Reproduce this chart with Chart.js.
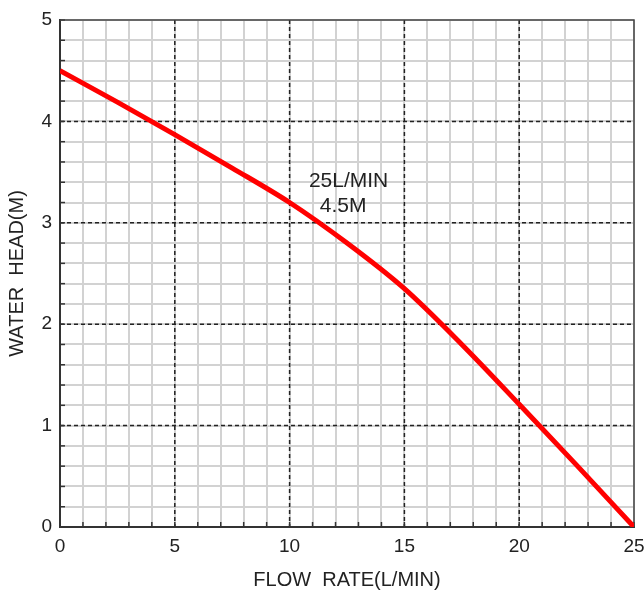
<!DOCTYPE html>
<html>
<head>
<meta charset="utf-8">
<script src="https://cdn.jsdelivr.net/npm/chart.js@4.4.0/dist/chart.umd.min.js"></script>
<style>
    html, body { margin: 0; padding: 0; background: #fff; }
    #wrap { width: 644px; height: 592px; }
</style>
</head>
<body>
<div id="wrap"><canvas id="pumpChart"></canvas></div>
<script>
// Pump curve
const flowRate = [0, 2.5, 5, 7.5, 10, 12.5, 15, 17.5, 20, 22.5, 25];
const waterHead = [4.5, 4.19, 3.87, 3.54, 3.20, 2.80, 2.35, 1.80, 1.21, 0.61, 0];
const xMajorTicks = [5, 10, 15, 20];
const yMajorTicks = [1, 2, 3, 4];
const noteLines = ['25L/MIN', '4.5M'];

const FONT = 'Arial, "Liberation Sans", Helvetica, sans-serif';

// Dashed major grid, inner tick marks, frame and note
const gridExtras = {
    id: 'gridExtras',
    beforeDatasetsDraw(chart) {
        const { ctx, chartArea: a, scales: { x, y } } = chart;
        ctx.save();

        // dashed major lines
        ctx.strokeStyle = '#222';
        ctx.lineWidth = 1.5;
        ctx.setLineDash([4, 3]);
        xMajorTicks.forEach(v => {
            const px = x.getPixelForValue(v);
            ctx.beginPath();
            ctx.moveTo(px, a.top);
            ctx.lineTo(px, a.bottom);
            ctx.stroke();
        });
        yMajorTicks.forEach(v => {
            const py = y.getPixelForValue(v);
            ctx.beginPath();
            ctx.moveTo(a.left, py);
            ctx.lineTo(a.right, py);
            ctx.stroke();
        });
        ctx.setLineDash([]);

        // small inner ticks
        ctx.strokeStyle = '#333';
        ctx.lineWidth = 1.5;
        y.ticks.forEach(t => {
            const py = y.getPixelForValue(t.value);
            ctx.beginPath();
            ctx.moveTo(a.left, py);
            ctx.lineTo(a.left + 5, py);
            ctx.stroke();
        });
        x.ticks.forEach(t => {
            const px = x.getPixelForValue(t.value);
            ctx.beginPath();
            ctx.moveTo(px, a.bottom);
            ctx.lineTo(px, a.bottom - 5);
            ctx.stroke();
        });

        // top and right frame
        ctx.strokeStyle = '#444';
        ctx.lineWidth = 1.5;
        ctx.beginPath();
        ctx.moveTo(a.left, a.top);
        ctx.lineTo(a.right, a.top);
        ctx.lineTo(a.right, a.bottom);
        ctx.stroke();

        // note
        ctx.fillStyle = '#222';
        ctx.font = '21px ' + FONT;
        ctx.textAlign = 'center';
        ctx.textBaseline = 'middle';
        ctx.fillText(noteLines[0], x.getPixelForValue(12.57), y.getPixelForValue(3.41));
        ctx.fillText(noteLines[1], x.getPixelForValue(12.33), y.getPixelForValue(3.16));
        ctx.restore();
    }
};

const points = flowRate.map((f, i) => ({ x: f, y: waterHead[i] }));

new Chart(document.getElementById('pumpChart'), {
    type: 'line',
    data: {
        datasets: [{
            data: points,
            borderColor: '#ff0000',
            borderWidth: 5,
            pointRadius: 0,
            cubicInterpolationMode: 'monotone',
            fill: false
        }]
    },
    options: {
        responsive: true,
        maintainAspectRatio: false,
        animation: false,
        layout: {
            padding: { top: 20, right: 10, left: 0, bottom: 0 }
        },
        plugins: {
            legend: { display: false },
            tooltip: { enabled: false }
        },
        scales: {
            x: {
                type: 'linear',
                min: 0,
                max: 25,
                ticks: {
                    stepSize: 1,
                    autoSkip: false,
                    maxRotation: 0,
                    color: '#222',
                    padding: 8,
                    font: { size: 19, family: FONT },
                    callback: v => (v % 5 === 0 ? v : '')
                },
                grid: {
                    color: '#d2d2d2',
                    lineWidth: 2,
                    drawTicks: false
                },
                border: { color: '#333', width: 2 },
                title: {
                    display: true,
                    text: 'FLOW  RATE(L/MIN)',
                    color: '#222',
                    font: { size: 20, family: FONT },
                    padding: { top: 0, bottom: 0 }
                },
                afterFit(scale) {
                    scale.height = 65;
                    scale.paddingLeft = 0;
                    scale.paddingRight = 0;
                }
            },
            y: {
                min: 0,
                max: 5,
                ticks: {
                    stepSize: 0.2,
                    autoSkip: false,
                    color: '#222',
                    padding: 8,
                    font: { size: 19, family: FONT },
                    callback: v => (Math.abs(v - Math.round(v)) < 1e-6 ? Math.round(v) : '')
                },
                grid: {
                    color: '#d2d2d2',
                    lineWidth: 2,
                    drawTicks: false
                },
                border: { color: '#333', width: 2 },
                title: {
                    display: true,
                    text: 'WATER  HEAD(M)',
                    color: '#222',
                    font: { size: 20, family: FONT },
                    padding: { top: 5, bottom: 0 }
                },
                afterFit(scale) {
                    scale.width = 60;
                    scale.paddingTop = 0;
                    scale.paddingBottom = 0;
                }
            }
        }
    },
    plugins: [gridExtras]
});
</script>
</body>
</html>
